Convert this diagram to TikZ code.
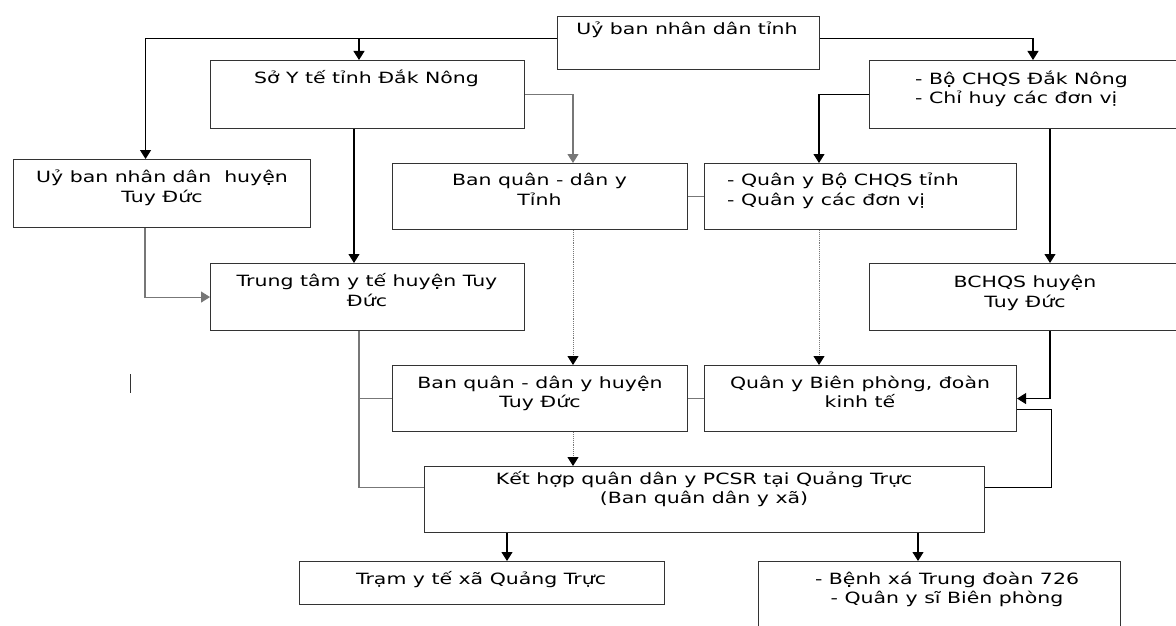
\documentclass[tikz,border=0pt]{standalone}
\usepackage{fontspec}
\setmainfont{DejaVu Sans}[FakeStretch=1.32]
\usetikzlibrary{arrows.meta}
\definecolor{boxc}{HTML}{333333}
\definecolor{linkc}{HTML}{777777}
\tikzset{
  box/.style={draw=boxc, line width=1.1pt, rectangle, inner sep=0pt, anchor=north west},
  txt/.style={inner sep=0pt, align=center, anchor=base, font=\fontsize{15.5}{19.7}\selectfont},
  txtl/.style={inner sep=0pt, align=left, anchor=base west, font=\fontsize{15.5}{19.7}\selectfont},
  con/.style={line width=1.1pt, draw=black},
  glink/.style={line width=1.1pt, draw=linkc},
  arr/.style={-{Triangle[length=9pt,width=11pt]}},
  dotl/.style={line width=0.9pt, draw=linkc, densely dotted}
}
\begin{document}
\begin{tikzpicture}[x=1pt,y=-1pt]
\useasboundingbox (0,0) rectangle (1176,626);
\clip (0,0) rectangle (1176,626);
\fill[white] (0,0) rectangle (1176,626);
% boxes
\node[box, minimum width=262pt, minimum height=53pt] (ubt) at (557,16) {};
\node[box, minimum width=314pt, minimum height=68pt] (soyt) at (210,60) {};
\node[box, minimum width=316pt, minimum height=68pt] (bochqs) at (869,60) {};
\node[box, minimum width=297pt, minimum height=68pt] (ubh) at (13,159) {};
\node[box, minimum width=295pt, minimum height=66pt] (bant) at (392,163) {};
\node[box, minimum width=312pt, minimum height=66pt] (qyt) at (704,163) {};
\node[box, minimum width=314pt, minimum height=67pt] (ttyt) at (210,263) {};
\node[box, minimum width=316pt, minimum height=67pt] (bchqs) at (869,263) {};
\node[box, minimum width=295pt, minimum height=66pt] (banh) at (392,365) {};
\node[box, minimum width=312pt, minimum height=66pt] (qybp) at (704,365) {};
\node[box, minimum width=560pt, minimum height=66pt] (kh) at (424,466) {};
\node[box, minimum width=365pt, minimum height=43pt] (tram) at (299,561) {};
\node[box, minimum width=362pt, minimum height=90pt] (bxa) at (758,561) {};
% texts (multi-line nodes: base = baseline of the last line)
\node[txt] (ubt-t) at (687,34.7) {Uỷ ban nhân dân tỉnh};
\node[txt] (soyt-t) at (366.5,83.3) {Sở Y tế tỉnh Đắk Nông};
\node[txtl] (bochqs-t) at (915,103.7) {- Bộ CHQS Đắk Nông\\- Chỉ huy các đơn vị};
\node[txt] (ubh-t) at (162,202.4) {Uỷ ban nhân dân\ \ huyện\\Tuy Đức};
\node[txt] (bant-t) at (539.5,205.4) {Ban quân - dân y\\Tỉnh};
\node[txtl] (qyt-t) at (727,205.4) {- Quân y Bộ CHQS tỉnh\\- Quân y các đơn vị};
\node[txt] (ttyt-t) at (367,306.4) {Trung tâm y tế huyện Tuy\\Đức};
\node[txt] (bchqs-t) at (1025,307) {BCHQS huyện\\Tuy Đức};
\node[txt] (banh-t) at (540,407.7) {Ban quân - dân y huyện\\Tuy Đức};
\node[txt] (qybp-t) at (860,407.7) {Quân y Biên phòng, đoàn\\kinh tế};
\node[txt] (kh-t) at (704,503.7) {Kết hợp quân dân y PCSR tại Quảng Trực\\(Ban quân dân y xã)};
\node[txt] (tram-t) at (481,584) {Trạm y tế xã Quảng Trực};
\node[txt] (bxa-t) at (947,603.7) {- Bệnh xá Trung đoàn 726\\- Quân y sĩ Biên phòng};
% connectors
\draw[con,arr] ([yshift=4.5pt]ubt.west) -| ([xshift=-16.5pt]ubh.north);
\draw[con,arr] ([yshift=4.5pt]ubt.west) -| ([xshift=149pt]soyt.north west);
\draw[con,arr] ([yshift=4.5pt]ubt.east) -| ([xshift=164pt]bochqs.north west);
\draw[glink,arr] (soyt.east) -| ([xshift=181pt]bant.north west);
\draw[con,arr] ([xshift=144pt]soyt.south west) -- ([xshift=144pt]ttyt.north west);
\draw[glink,arr] ([xshift=132pt]ubh.south west) |- (ttyt.west);
\draw[glink] (bant.east) -- (qyt.west);
\draw[con,arr] (bochqs.west) -| ([xshift=115pt]qyt.north west);
\draw[con,arr] ([xshift=181pt]bochqs.south west) -- ([xshift=181pt]bchqs.north west);
\draw[dotl] ([xshift=181pt]bant.south west) -- ([xshift=181pt,yshift=8pt]banh.north west);
\draw[con,arr] ([xshift=181pt,yshift=9pt]banh.north west) -- ([xshift=181pt]banh.north west);
\draw[dotl] ([xshift=115pt]qyt.south west) -- ([xshift=115pt,yshift=8pt]qybp.north west);
\draw[con,arr] ([xshift=115pt,yshift=9pt]qybp.north west) -- ([xshift=115pt]qybp.north west);
\draw[glink] ([xshift=149pt]ttyt.south west) |- ([yshift=12pt]kh.west);
\draw[glink] (banh.west) -- ++(-33,0);
\draw[glink] (banh.east) -- (qybp.west);
\draw[con,arr] ([xshift=181pt]bchqs.south west) |- (qybp.east);
\draw[con] ([yshift=-11pt]qybp.east) -- ++(34,0) |- ([yshift=12pt]kh.east);
\draw[dotl] ([xshift=181pt]banh.south west) -- ([xshift=149pt,yshift=8pt]kh.north west);
\draw[con,arr] ([xshift=149pt,yshift=9pt]kh.north west) -- ([xshift=149pt]kh.north west);
\draw[con,arr] ([xshift=83pt]kh.south west) -- ([xshift=208pt]tram.north west);
\draw[con,arr] ([xshift=494pt]kh.south west) -- ([xshift=160pt]bxa.north west);
% stray mark
\draw[line width=1pt, draw=boxc] (130,374) -- (130,393);
\end{tikzpicture}
\end{document}
